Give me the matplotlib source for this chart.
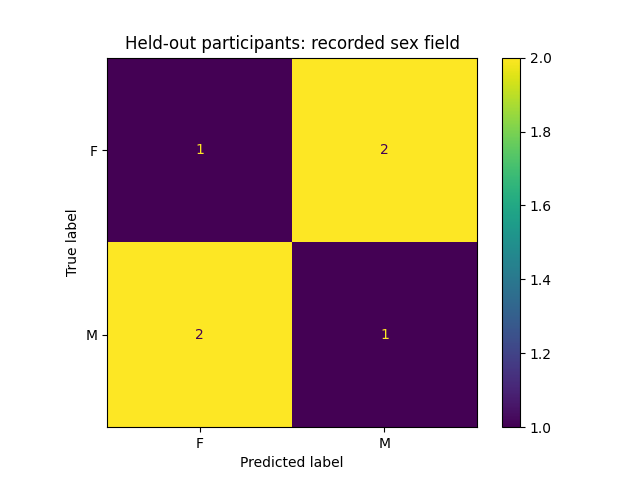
import numpy as np
import matplotlib.pyplot as plt

# Confusion matrix values
class_labels = ["F", "M"]
cm = np.array([[1, 2],
               [2, 1]])

fig, ax = plt.subplots(figsize=(6.4, 4.8), dpi=100)
cmap = plt.get_cmap("viridis")
im = ax.imshow(cm, interpolation="nearest", cmap=cmap)

# text colour flips at the midpoint, like sklearn's display
thresh = (cm.max() + cm.min()) / 2.0
for i in range(cm.shape[0]):
    for j in range(cm.shape[1]):
        color = cmap(1.0) if cm[i, j] < thresh else cmap(0.0)
        ax.text(j, i, format(cm[i, j], "d"), ha="center", va="center", color=color)

fig.colorbar(im, ax=ax)
ax.set_xticks(np.arange(len(class_labels)))
ax.set_xticklabels(class_labels)
ax.set_yticks(np.arange(len(class_labels)))
ax.set_yticklabels(class_labels)
ax.set_xlabel("Predicted label")
ax.set_ylabel("True label")
ax.set_ylim(len(class_labels) - 0.5, -0.5)
ax.set_title("Held-out participants: recorded sex field")

fig.savefig("out.png", dpi=100)
plt.close(fig)
